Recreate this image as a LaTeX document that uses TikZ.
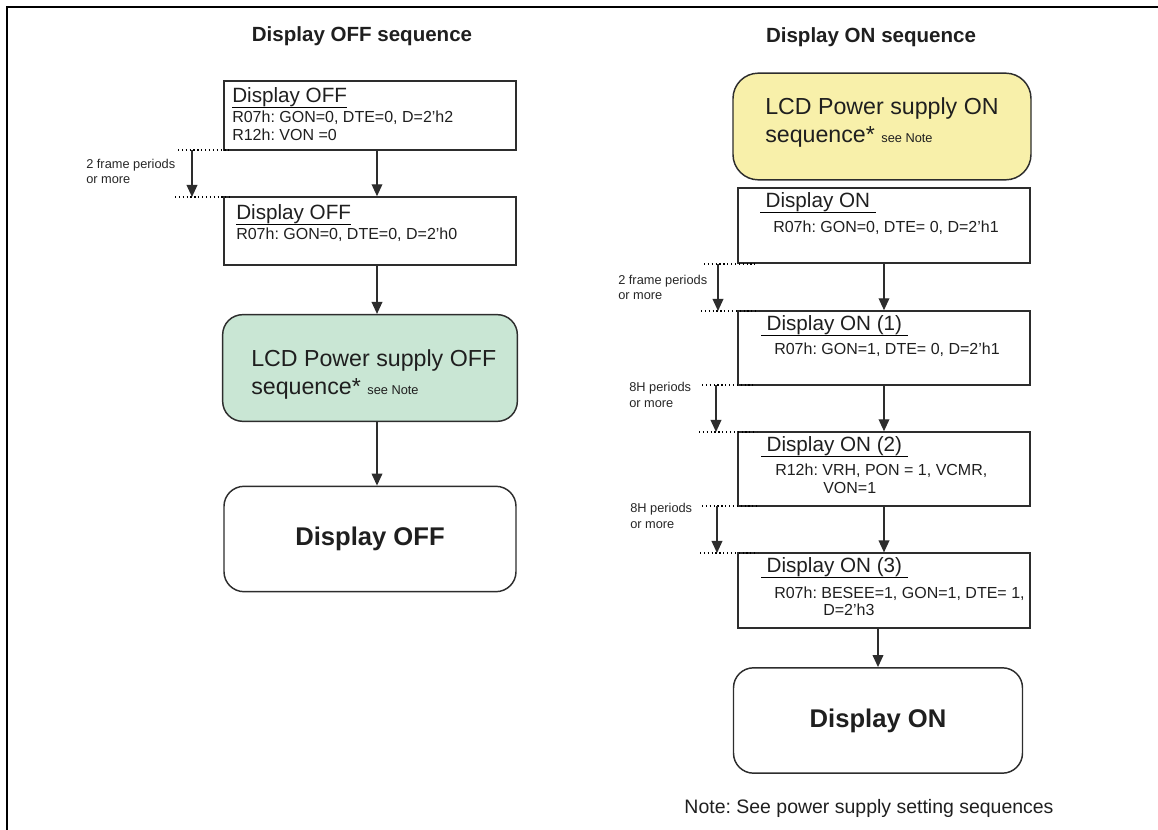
\documentclass[tikz,border=0pt]{standalone}
\usepackage{fontspec}
\setmainfont{Liberation Sans}
\usepackage{tikz}
\usetikzlibrary{arrows.meta, positioning}
\definecolor{offgreen}{RGB}{201,230,212}
\definecolor{onyellow}{RGB}{248,240,170}
\definecolor{edgegray}{RGB}{45,45,45}
\frenchspacing

\begin{document}
\begin{tikzpicture}[x=0.75pt, y=-0.75pt,
  box/.style={draw=edgegray, line width=1.1pt, minimum width=219pt, minimum height=56pt, inner sep=0},
  pwr/.style={draw=edgegray, line width=1.1pt, rounded corners=15pt, minimum width=221pt, minimum height=80pt, inner sep=0},
  endbox/.style={draw=edgegray, line width=1.1pt, rounded corners=15pt, minimum width=219pt, minimum height=79pt, inner sep=0, font=\bfseries\fontsize{19.2}{23}\selectfont, text=black!88},
  title/.style={font=\bfseries\fontsize{15.4}{18}\selectfont, inner sep=0, anchor=base, text=black!88},
  head/.style={font=\fontsize{15.5}{18}\selectfont, inner sep=0, anchor=base west, text=black!88},
  reg/.style={font=\fontsize{12}{14}\selectfont, inner sep=0, anchor=base west, text=black!88},
  big/.style={font=\fontsize{17.4}{21}\selectfont, inner sep=0, anchor=base west, text=black!88},
  note/.style={font=\fontsize{9.6}{11}\selectfont, inner sep=0, anchor=west, text=black!85},
  arr/.style={-{Triangle[length=9pt,width=8pt]}, line width=1.1pt, draw=edgegray},
  dots/.style={dotted, line width=0.9pt}
]
\useasboundingbox (0,0) rectangle (1158,830);

% frame
\draw[line width=1.9pt] (7,830) -- (7,7) -- (1158,7);

% Titles
\node[title] (TOFF) at (362,42) {Display OFF sequence};
\node[title] (TON)  at (871,43) {Display ON sequence};

% OFF column
\node[box, minimum height=51.75pt] (D1) at (370,115.5) {};
\node[box, minimum height=51pt]    (D2) at (370,231)   {};
\node[pwr, fill=offgreen]          (PF) at (370,368)   {};
\node[endbox]                      (DF) at (370,539)   {Display OFF};

\node[head] (H1) at (232,103) {Display OFF};
\node[reg]  (L1) at (232,123) {R07h: GON=0, DTE=0, D=2'h2};
\node[reg]  (L2) at (232,141) {R12h: VON =0};
\node[head] (H2) at (236,220) {Display OFF};
\node[reg]  (L3) at (236,240) {R07h: GON=0, DTE=0, D=2'h0};
\node[big]  (P1) at (251,367) {LCD Power supply OFF};
\node[big]  (P2) at (251,395) {sequence* {\fontsize{9.6}{11}\selectfont see Note}};

\draw[line width=0.9pt] (H1.south west) -- (H1.south east);
\draw[line width=0.9pt] (H2.south west) -- (H2.south east);

\draw[arr] ([xshift=5.25pt]D1.south) -- ([xshift=5.25pt]D2.north);
\draw[arr] ([xshift=5.25pt]D2.south) -- ([xshift=5.25pt]PF.north);
\draw[arr] ([xshift=5.25pt]PF.south) -- ([xshift=5.25pt]DF.north);

% wait marks, OFF column
\coordinate (wa) at (192,150);
\coordinate (wb) at (192,197);
\draw[dots] (178,150) -- (232,150);
\draw[dots] (175,197) -- (232,197);
\draw[arr] (wa) -- (wb);
\node[note] (N1) at (86,165) {2 frame periods};
\node[note] (N2) at (86,180) {or more};

% ON column
\node[pwr, fill=onyellow, rounded corners=19pt, minimum width=223.5pt] (PN) at (882,126.5) {};
\node[box] (R0) at (884,225.5) {};
\node[box, minimum height=55.5pt] (R1) at (884,348) {};
\node[box, minimum height=55.5pt] (R2) at (884,469) {};
\node[box] (R3) at (884,590.5) {};
\node[endbox, minimum width=216.75pt] (DN) at (878,720.5) {Display ON};

\node[big] (P3) at (765,115) {LCD Power supply ON};
\node[big] (P4) at (765,143) {sequence* {\fontsize{9.6}{11}\selectfont see Note}};

\node[head, inner xsep=4pt] (H3) at (760,208) {Display ON};
\node[reg] (L4) at (773,233) {R07h: GON=0, DTE= 0, D=2'h1};
\node[head, inner xsep=4pt] (H4) at (761,331) {Display ON (1)};
\node[reg] (L5) at (774,355) {R07h: GON=1, DTE= 0, D=2'h1};
\node[head, inner xsep=4pt] (H5) at (761,452) {Display ON (2)};
\node[reg] (L6) at (775,476) {R12h: VRH, PON = 1, VCMR,};
\node[reg] (L7) at (823,494) {VON=1};
\node[head, inner xsep=4pt] (H6) at (761,573) {Display ON (3)};
\node[reg] (L8) at (774,599) {R07h: BESEE=1, GON=1, DTE= 1,};
\node[reg] (L9) at (823,616) {D=2'h3};

\draw[line width=0.9pt] (H3.south west) -- (H3.south east);
\draw[line width=0.9pt] (H4.south west) -- (H4.south east);
\draw[line width=0.9pt] (H5.south west) -- (H5.south east);
\draw[line width=0.9pt] (H6.south west) -- (H6.south east);

\draw[arr] (R0) -- (R1);
\draw[arr] (R1) -- (R2);
\draw[arr] (R2) -- (R3);
\draw[arr] (R3.south -| DN.north) -- (DN.north);

% wait marks, ON column
\coordinate (wc) at (718,264);
\coordinate (wd) at (718,311);
\draw[dots] (704,264) -- (758,264);
\draw[dots] (701,311) -- (759,311);
\draw[arr] (wc) -- (wd);
\node[note] (N3) at (618,281) {2 frame periods};
\node[note] (N4) at (618,296) {or more};

\coordinate (we) at (716,385);
\coordinate (wf) at (716,432);
\draw[dots] (702,385) -- (756,385);
\draw[dots] (699,432) -- (757,432);
\draw[arr] (we) -- (wf);
\node[note] (N5) at (629,388) {8H periods};
\node[note] (N6) at (629,404) {or more};

\coordinate (wg) at (717,506);
\coordinate (wh) at (717,553);
\draw[dots] (702,506) -- (757,506);
\draw[dots] (700,553) -- (758,553);
\draw[arr] (wg) -- (wh);
\node[note] (N7) at (630,509) {8H periods};
\node[note] (N8) at (630,525) {or more};

% footnote
\node[font=\fontsize{14.6}{17}\selectfont, inner sep=0, anchor=base, text=black!88] (FN) at (869,813) {Note: See power supply setting sequences};

\end{tikzpicture}
\end{document}
